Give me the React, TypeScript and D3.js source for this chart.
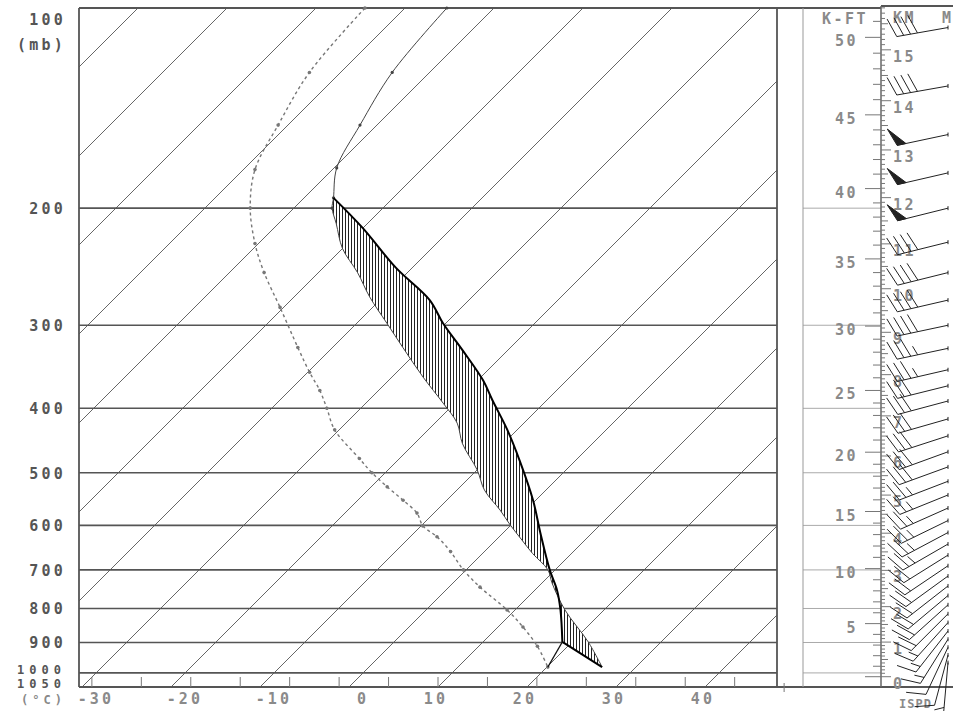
import React from "react";
import * as d3 from "d3";

// environment temperature (mb, °C)
const tempP = [100, 125, 150, 174, 193, 200, 211, 230, 250, 272, 298, 324, 359, 393, 421, 452, 495, 531, 569, 599, 631, 661, 700, 732, 804, 898, 980];
const tempC = [-65.3, -64.2, -61.9, -59.7, -56.7, -55.7, -53.5, -50.0, -45.6, -41.5, -36.6, -32.1, -26.5, -21.3, -17.5, -14.6, -10.0, -6.9, -2.9, -0.1, 2.9, 5.6, 9.2, 11.1, 15.6, 21.8, 26.2];

// dew point
const dewP = [100, 125, 150, 175, 200, 226, 250, 282, 324, 353, 376, 400, 431, 476, 500, 525, 550, 575, 601, 624, 657, 700, 743, 804, 853, 912, 980];
const dewC = [-74.5, -73.5, -71.1, -68.7, -64.9, -60.4, -56.1, -50.4, -43.9, -39.8, -36.6, -33.8, -30.5, -24.5, -21.5, -18.2, -14.9, -11.9, -9.8, -7.0, -3.8, -0.3, 3.5, 9.1, 12.8, 16.6, 20.1];

// lifted parcel (surface -> LCL -> EL)
const parcelP = [980, 898, 804, 751, 700, 616, 550, 479, 431, 389, 363, 327, 298, 275, 246, 214, 193];
const parcelC = [26.2, 18.9, 15.1, 12.5, 9.4, 4.2, -0.3, -6.3, -11.1, -16.1, -19.4, -25.1, -30.3, -34.4, -41.8, -50.1, -56.7];

// winds
const windP = [107, 131, 155, 177, 200, 225, 250, 275, 300, 325, 350, 370, 390, 415, 440, 465, 490, 515, 540, 565, 590, 615, 640, 665, 690, 715, 740, 765, 790, 815, 840, 865, 890, 915, 940, 965];
const windDir = [260, 260, 258, 257, 256, 256, 256, 257, 258, 258, 257, 256, 255, 254, 252, 250, 250, 249, 248, 246, 244, 242, 240, 238, 236, 234, 232, 230, 228, 225, 222, 218, 212, 205, 195, 185];
const windKt = [40, 40, 50, 50, 50, 40, 40, 40, 40, 35, 35, 30, 30, 30, 30, 30, 30, 25, 25, 25, 25, 25, 25, 20, 20, 20, 20, 20, 20, 20, 15, 15, 15, 10, 10, 5];

const pressLines = [100, 200, 300, 400, 500, 600, 700, 800, 900, 1000];
const pressLabels = ["100", "200", "300", "400", "500", "600", "700", "800", "900"];
const tempTicks = [-30, -20, -10, 0, 10, 20, 30, 40];
const kftLabels = [5, 10, 15, 20, 25, 30, 35, 40, 45, 50];
const kmLabels = d3.range(0, 16);

const W = 953, H = 711;
const left = 79, right = 777, top = 8, bottom = 687;
const axisX = 881;
const font = "'DejaVu Sans Mono', monospace";

// standard atmosphere pressure for height in metres
const stdP = (m: number) => 1013.25 * Math.pow(1 - 2.25577e-5 * m, 5.25588);

export default function App() {
  const y = d3.scaleLog().domain([100, 1050]).range([top, bottom]);
  const xT = d3.scaleLinear().domain([0, 10]).range([349, 438]);
  const sx = (t: number, p: number) => xT(t) + (bottom - y(p));

  const smooth = d3.line<[number, number]>().x(d => sx(d[1], d[0])).y(d => y(d[0])).curve(d3.curveCatmullRom.alpha(0.5));
  const straight = d3.line<[number, number]>().x(d => sx(d[1], d[0])).y(d => y(d[0]));

  const temp = tempP.map((p, i) => [p, tempC[i]] as [number, number]);
  const dew = dewP.map((p, i) => [p, dewC[i]] as [number, number]);
  const parcel = parcelP.map((p, i) => [p, parcelC[i]] as [number, number]);

  const dryPart = straight(parcel.slice(0, 2)) || "";
  const moistPart = smooth(parcel.slice(1)) || "";
  const envLow = temp.filter(d => d[0] >= 193);
  const hatchPoly = dryPart + "L" + (moistPart.slice(1)) + "L" + (smooth(envLow) || "").slice(1) + "Z";
  const mixLine = straight([dew[dew.length - 1], parcel[1]]);

  const isotherms = d3.range(-110, 60, 10);
  const fTicks = d3.range(-20, 130, 10).map(f => xT((f - 32) * 5 / 9));

  const ftTicks = d3.range(0, 52001, 1000).map(h => ({ h, y: y(stdP(h * 0.3048)) })).filter(d => d.y >= top);
  const mTicks = d3.range(0, 16001, 100).map(h => ({ h, y: y(stdP(h)) })).filter(d => d.y >= 6);

  const barbs = windP.map((p, i) => {
    const bx = 948, by = y(p), L = 52;
    const rad = windDir[i] * Math.PI / 180;
    const ux = Math.sin(rad), uy = -Math.cos(rad);
    const tx = bx + ux * L, ty = by + uy * L;
    const a = Math.atan2(uy, ux) + 71 * Math.PI / 180;
    const fx = Math.cos(a), fy = Math.sin(a);
    const P = (d: number) => [tx - ux * d, ty - uy * d];
    let spd = windKt[i];
    const parts: JSX.Element[] = [];
    let d = 0;
    while (spd >= 50) {
      const [x0, y0] = P(d), [x2, y2] = P(d + 9);
      parts.push(<polygon key={"p" + d} points={`${x0},${y0} ${x0 + fx * 19},${y0 + fy * 19} ${x2},${y2}`} fill="#222" />);
      d += 10; spd -= 50;
    }
    while (spd >= 10) {
      const [x0, y0] = P(d);
      parts.push(<line key={"f" + d} x1={x0} y1={y0} x2={x0 + fx * 20} y2={y0 + fy * 20} />);
      d += 7; spd -= 10;
    }
    if (spd >= 5) {
      if (d === 0) d = 7;
      const [x0, y0] = P(d);
      parts.push(<line key={"h" + d} x1={x0} y1={y0} x2={x0 + fx * 10} y2={y0 + fy * 10} />);
    }
    return (
      <g key={i}>
        <line x1={bx} y1={by} x2={tx} y2={ty} />
        <line x1={bx} y1={by - 2} x2={bx} y2={by + 2} />
        {parts}
      </g>
    );
  });

  return (
    <svg width={W} height={H} style={{ position: "absolute", left: 0, top: 0, background: "#fff" }} fontFamily={font} fontWeight="bold">
      <defs>
        <clipPath id="plot"><rect x={left} y={top} width={right - left} height={bottom - top} /></clipPath>
        <pattern id="hatch" width={3} height={4} patternUnits="userSpaceOnUse">
          <rect width={3} height={4} fill="#fff" />
          <line x1={0.5} y1={0} x2={0.5} y2={4} stroke="#222" strokeWidth={1} />
        </pattern>
      </defs>

      {/* isotherms */}
      <g clipPath="url(#plot)" stroke="#555" strokeWidth={0.9}>
        {isotherms.map(t => (
          <line key={t} x1={xT(t)} y1={bottom} x2={xT(t) + (bottom - top)} y2={top} />
        ))}
      </g>

      {/* pressure lines */}
      <g stroke="#555" strokeWidth={1.6}>
        {pressLines.map(p => (
          <line key={p} x1={left} x2={right} y1={y(p)} y2={y(p)} />
        ))}
      </g>
      <g stroke="#aaa" strokeWidth={1}>
        {pressLines.slice(1).map(p => (
          <line key={p} x1={803} x2={axisX} y1={y(p)} y2={y(p)} />
        ))}
      </g>

      {/* frame */}
      <g stroke="#555" strokeWidth={1.8} fill="none">
        <line x1={left} x2={axisX} y1={top} y2={top} />
        <line x1={left} x2={W} y1={bottom} y2={bottom} />
        <line x1={left} x2={left} y1={top} y2={bottom} />
        <line x1={right} x2={right} y1={top} y2={bottom} />
        <line x1={axisX} x2={W} y1={6} y2={6} />
      </g>
      <line x1={803} x2={803} y1={top} y2={bottom} stroke="#999" strokeWidth={1} />
      <line x1={axisX} x2={axisX} y1={6} y2={bottom} stroke="#666" strokeWidth={1.5} />

      {/* °F ticks along the base */}
      <g stroke="#777" strokeWidth={1}>
        {fTicks.filter(x => x > left && x < 790).map((x, i) => (
          x < right
            ? <line key={i} x1={x} x2={x} y1={bottom} y2={bottom - 10} />
            : <line key={i} x1={x} x2={x} y1={bottom - 4} y2={bottom + 5} />
        ))}
      </g>

      {/* CAPE / CIN hatch */}
      <path d={hatchPoly} fill="url(#hatch)" stroke="none" />

      {/* environment temperature */}
      <path d={smooth(temp) || ""} fill="none" stroke="#444" strokeWidth={1} />
      {temp.filter(d => d[0] <= 200).map((d, i) => (
        <circle key={i} cx={sx(d[1], d[0])} cy={y(d[0])} r={1.6} fill="#444" />
      ))}

      {/* dew point */}
      <path d={smooth(dew) || ""} fill="none" stroke="#777" strokeWidth={1.4} strokeDasharray="3 3" />
      {dew.map((d, i) => (
        <circle key={i} cx={sx(d[1], d[0])} cy={y(d[0])} r={1.8} fill="#777" />
      ))}

      {/* parcel */}
      <path d={dryPart + moistPart} fill="none" stroke="#000" strokeWidth={2} />
      <path d={mixLine || ""} fill="none" stroke="#111" strokeWidth={1.2} />

      {/* pressure labels */}
      <g fill="#555" fontSize={15} letterSpacing={3.2} textAnchor="end" dominantBaseline="central">
        {pressLabels.map(s => {
          const p = +s;
          const cy = p === 100 ? 20 : y(p) + 1;
          return <text key={s} x={66} y={cy}>{s}</text>;
        })}
        <text x={66} y={45}>(mb)</text>
      </g>
      <g fill="#555" fontSize={12} letterSpacing={5} textAnchor="end" dominantBaseline="central">
        <text x={66} y={670}>1000</text>
        <text x={66} y={684}>1050</text>
        <text x={66} y={700} fill="#888" letterSpacing={4}>(°C)</text>
      </g>

      {/* temperature labels */}
      <g fill="#8a8a8a" fontSize={15} letterSpacing={3.2} textAnchor="middle" dominantBaseline="central">
        {tempTicks.map(t => (
          <text key={t} x={xT(t) + (t <= 0 ? 14 : -2)} y={699}>{t}</text>
        ))}
      </g>

      {/* height scales */}
      <g stroke="#777" strokeWidth={1}>
        {ftTicks.map(d => (
          <line key={"ft" + d.h} x1={d.h % 5000 === 0 ? 865 : 873} x2={axisX} y1={d.y} y2={d.y} />
        ))}
        {mTicks.map(d => (
          <line key={"m" + d.h} x1={axisX} x2={d.h % 1000 === 0 ? 891 : d.h % 500 === 0 ? 888 : 885} y1={d.y} y2={d.y} />
        ))}
      </g>
      <g fill="#8a8a8a" fontSize={15} letterSpacing={2.5} dominantBaseline="central">
        {kftLabels.map(k => (
          <text key={k} x={858} y={y(stdP(k * 1000 * 0.3048)) + 4} textAnchor="end">{k}</text>
        ))}
        {kmLabels.map(k => (
          <text key={k} x={893} y={y(stdP(k * 1000)) + 7}>{k}</text>
        ))}
        <text x={868} y={19} textAnchor="end">K-FT</text>
        <text x={893} y={18}>KM</text>
        <text x={942} y={18}>M</text>
        <text x={899} y={704} fontSize={12} letterSpacing={1}>ISPD</text>
      </g>

      {/* wind barbs */}
      <g stroke="#222" strokeWidth={1} fill="none">
        {barbs}
      </g>
    </svg>
  );
}
